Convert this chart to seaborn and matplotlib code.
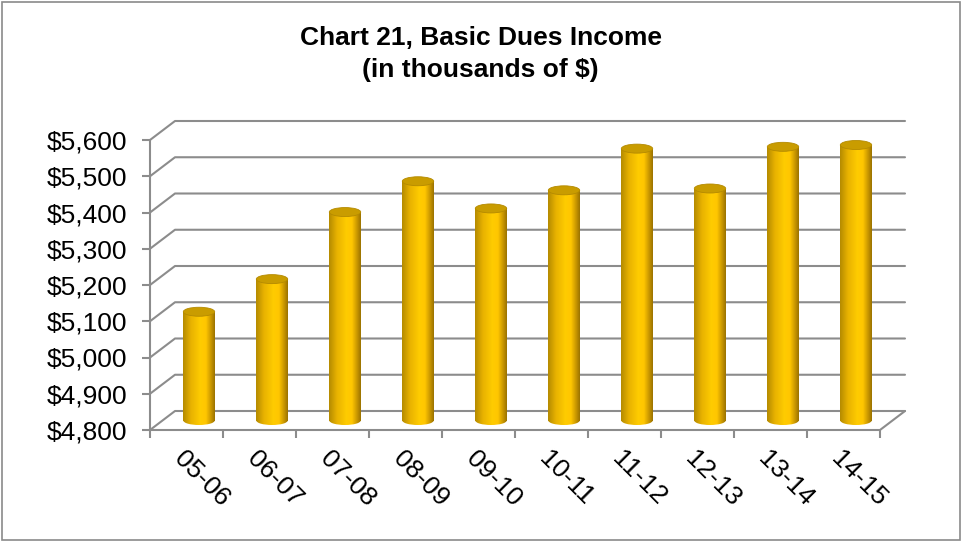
import numpy as np
import matplotlib
matplotlib.use("Agg")
import matplotlib.pyplot as plt
import seaborn as sns
from matplotlib.patches import Ellipse, Rectangle
from matplotlib.colors import LinearSegmentedColormap

# data (thousands of $)
seasons = ["05-06", "06-07", "07-08", "08-09", "09-10",
           "10-11", "11-12", "12-13", "13-14", "14-15"]
dues = [5100, 5190, 5375, 5460, 5385, 5435, 5550, 5440, 5555, 5560]
y_ticks = [4800, 4900, 5000, 5100, 5200, 5300, 5400, 5500, 5600]

sns.set_style("white")
plt.rcParams["font.family"] = ["Liberation Sans", "DejaVu Sans"]
plt.rcParams["text.color"] = "black"

W, H = 961, 541
fig = plt.figure(figsize=(W / 100, H / 100), dpi=100)
ax = fig.add_axes([150 / W, 111 / H, 730 / W, 290 / H])

BASE, TOP = y_ticks[0], y_ticks[-1]
PX_X = 730 / len(seasons)           # pixels per category
PX_Y = 290 / (TOP - BASE)           # pixels per value unit
DX = 25 / PX_X                      # depth offset of back wall
DY = 19 / PX_Y
grid_c = "#8c8c8c"

sns.barplot(x=seasons, y=dues, width=0.43, color="#ffc800", ax=ax, zorder=3)

# pseudo-3d frame: back wall grid, left wall diagonals, floor
for v in y_ticks:
    ax.plot([-0.5, -0.5 + DX, len(seasons) - 0.5 + DX], [v, v + DY, v + DY],
            color=grid_c, lw=1.5, clip_on=False, zorder=1)
ax.plot([-0.5, -0.5], [BASE, TOP], color=grid_c, lw=1.5, clip_on=False, zorder=1)
ax.plot([-0.5, len(seasons) - 0.5, len(seasons) - 0.5 + DX], [BASE, BASE, BASE + DY],
        color=grid_c, lw=1.5, clip_on=False, zorder=1)

# cylinders
cmap = LinearSegmentedColormap.from_list(
    "gold", [(0, "#b48a00"), (0.25, "#e8b200"), (0.55, "#ffcc00"),
             (0.72, "#ffc600"), (0.88, "#c89600"), (1, "#9a7200")])
grad = np.linspace(0, 1, 256)[None, :]
ell_h = 9 / PX_Y
for p in list(ax.patches):
    w = p.get_width()
    x0 = p.get_x() + DX / 2
    top = p.get_height() + DY / 2
    bot = BASE + DY / 2
    p.set_x(x0)
    p.set_y(bot)
    p.set_height(top - bot)
    p.set_facecolor("none")
    p.set_edgecolor("none")
    e = Ellipse((x0 + w / 2, bot), w, ell_h, facecolor="none", edgecolor="none")
    ax.add_patch(e)
    for clip in (p, e):
        im = ax.imshow(grad, cmap=cmap, aspect="auto", interpolation="bilinear",
                       extent=[x0, x0 + w, bot - ell_h, top], zorder=3)
        im.set_clip_path(clip)
    ax.add_patch(Ellipse((x0 + w / 2, top), w, ell_h, facecolor="#c99c00",
                         edgecolor="#b48a00", lw=0.6, zorder=4))

ax.set_xlim(-0.5, len(seasons) - 0.5)
ax.set_ylim(BASE, TOP)
sns.despine(ax=ax, left=True, bottom=True)

ax.set_yticks(y_ticks, labels=[f"${v:,}" for v in y_ticks])
ax.set_xticks(range(len(seasons)), labels=seasons)
ax.set_xticks(np.arange(-0.5, len(seasons)), minor=True)
ax.tick_params(axis="y", left=True, length=5.8, width=1.5, color=grid_c,
               pad=10.5, labelsize=19, labelcolor="black")
ax.tick_params(axis="x", which="major", bottom=True, length=0, pad=12,
               labelsize=19, labelcolor="black")
ax.tick_params(axis="x", which="minor", bottom=True, length=5.8, width=1.5,
               color=grid_c)
for lab in ax.get_xticklabels():
    lab.set_rotation(-45)
    lab.set_ha("left")
    lab.set_va("top")
    lab.set_rotation_mode("anchor")
ax.set_xlabel("")
ax.set_ylabel("")
ax.grid(False)

fig.text(0.5, 1 - 38 / H, "Chart 21, Basic Dues Income", ha="center", va="center",
         fontsize=19, fontweight="bold", color="black")
fig.text(0.5, 1 - 70 / H, "(in thousands of $)", ha="center", va="center",
         fontsize=19, fontweight="bold", color="black")
fig.add_artist(Rectangle((1.5 / W, 1.5 / H), (W - 3) / W, (H - 3) / H, fill=False,
                         edgecolor="#8a8a8a", lw=1.2, transform=fig.transFigure))

fig.savefig("out.png", dpi=100)
